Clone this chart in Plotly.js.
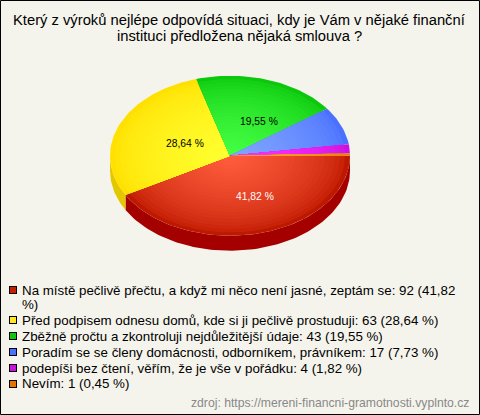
<!DOCTYPE html>
<html><head><meta charset="utf-8">
<script src="https://cdn.plot.ly/plotly-3.0.1.min.js"></script>
<style>html,body{margin:0;padding:0;background:#f5f4ec;overflow:hidden}</style>
</head><body><div id="chart" style="width:480px;height:415px"></div>
<script>
const titleLines = ['Který z výroků nejlépe odpovídá situaci, kdy je Vám v nějaké finanční','instituci předložena nějaká smlouva ?'];
const categories = ['Na místě pečlivě přečtu, a když mi něco není jasné, zeptám se','Před podpisem odnesu domů, kde si ji pečlivě prostuduji','Zběžně pročtu a zkontroluji nejdůležitější údaje','Poradím se se členy domácnosti, odborníkem, právníkem','podepíši bez čtení, věřím, že je vše v pořádku','Nevím'];
const values = [92,63,43,17,4,1];
const percents = ['41,82 %','28,64 %','19,55 %','7,73 %','1,82 %','0,45 %'];
const swatchColors = ['#c81e00','#ffe81a','#0ec80e','#4a70ff','#cc11dd','#e67300'];
const innerColors = [[255,92,60],[255,255,48],[68,255,68],[128,165,255],[255,51,255],[255,170,60]];
const outerColors = [[190,25,0],[255,224,0],[12,200,12],[74,112,255],[204,17,221],[230,125,0]];
const sideColors = ['#a50000','#e3c800','#0a9a0a','#3a58cc','#a010b0','#b85a00'];
const labelPos = [[254.5,196,'#ffffff'],[184.5,143,'#000000'],[258.5,121,'#000000']];
const cx=230, cy=155.7, rx=120, ry=80, depth=15, layers=24;
const total = values.reduce((a,b)=>a+b,0);
const traces=[];
function arc(a0,a1,f,dy){const n=Math.max(2,Math.ceil(Math.abs(a1-a0)/0.03));const xs=[],ys=[];for(let i=0;i<=n;i++){const a=a0+(a1-a0)*i/n;xs.push(cx+rx*f*Math.cos(a));ys.push(cy+dy+ry*f*Math.sin(a));}return [xs,ys];}
function poly(x,y,color){traces.push({type:'scatter',mode:'lines',x:x,y:y,fill:'toself',fillcolor:color,line:{width:0,color:color},hoverinfo:'skip',showlegend:false});}
let start=0;const spans=values.map(v=>{const s=[start,start+v/total*2*Math.PI];start=s[1];return s;});
spans.forEach((s,i)=>{const a0=Math.max(s[0],0),a1=Math.min(s[1],Math.PI);if(a1<=a0)return;const [x1,y1]=arc(a0,a1,1,0);const [x2,y2]=arc(a1,a0,1,depth);poly(x1.concat(x2,[x1[0]]),y1.concat(y2,[y1[0]]),sideColors[i]);});
spans.forEach((s,i)=>{for(let k=0;k<layers;k++){const f=1-k/layers;const t=Math.pow(k/(layers-1),0.6);const c=outerColors[i].map((o,j)=>Math.round(o+(innerColors[i][j]-o)*t));const [x,y]=arc(s[0],s[1],f,0);poly([cx].concat(x,[cx]),[cy].concat(y,[cy]),'rgb('+c.join(',')+')');}});
const rowY=[290,320,336,352,368,383.5];
const ann=[];
function t(x,y,text,size,color,anchor){ann.push({x:x,y:y,xref:'x',yref:'y',text:text,showarrow:false,xanchor:anchor,yanchor:'middle',font:{family:'Liberation Sans, Arial, sans-serif',size:size,color:color}});}
t(239,20,titleLines[0],14.75,'#000','center');t(239,36,titleLines[1],14.75,'#000','center');
labelPos.forEach((p,i)=>t(p[0],p[1],percents[i],10.3,p[2],'center'));
const rows=categories.map((c,i)=>c+': '+values[i]+' ('+percents[i]+')');
t(20,rowY[0],rows[0].split(' %')[0].trimEnd(),13.33,'#000','left');t(20,304,'%)',13.33,'#000','left');
rows.slice(1).forEach((r,i)=>t(20,rowY[i+1],r,13.33,'#000','left'));
t(471,403,'zdroj: https://mereni-financni-gramotnosti.vyplnto.cz',12.2,'#888888','right');
const shapes=[{type:'rect',xref:'x',yref:'y',x0:0.5,x1:479.5,y0:0.5,y1:414.5,line:{color:'#000',width:1},fillcolor:'rgba(0,0,0,0)'}];
rowY.forEach((y,i)=>{const m=Math.round(y);
shapes.push({type:'rect',xref:'x',yref:'y',x0:9,x1:17,y0:m-4,y1:m+4,line:{width:0},fillcolor:'#000'});
shapes.push({type:'rect',xref:'x',yref:'y',x0:10,x1:16,y0:m-3,y1:m+3,line:{width:0},fillcolor:swatchColors[i]});});
Plotly.newPlot('chart',traces,{width:480,height:415,margin:{l:0,r:0,t:0,b:0},paper_bgcolor:'#f5f4ec',plot_bgcolor:'#f5f4ec',
xaxis:{range:[0,480],visible:false,fixedrange:true},yaxis:{range:[415,0],visible:false,fixedrange:true},annotations:ann,shapes:shapes},{staticPlot:true,displayModeBar:false});
</script></body></html>
